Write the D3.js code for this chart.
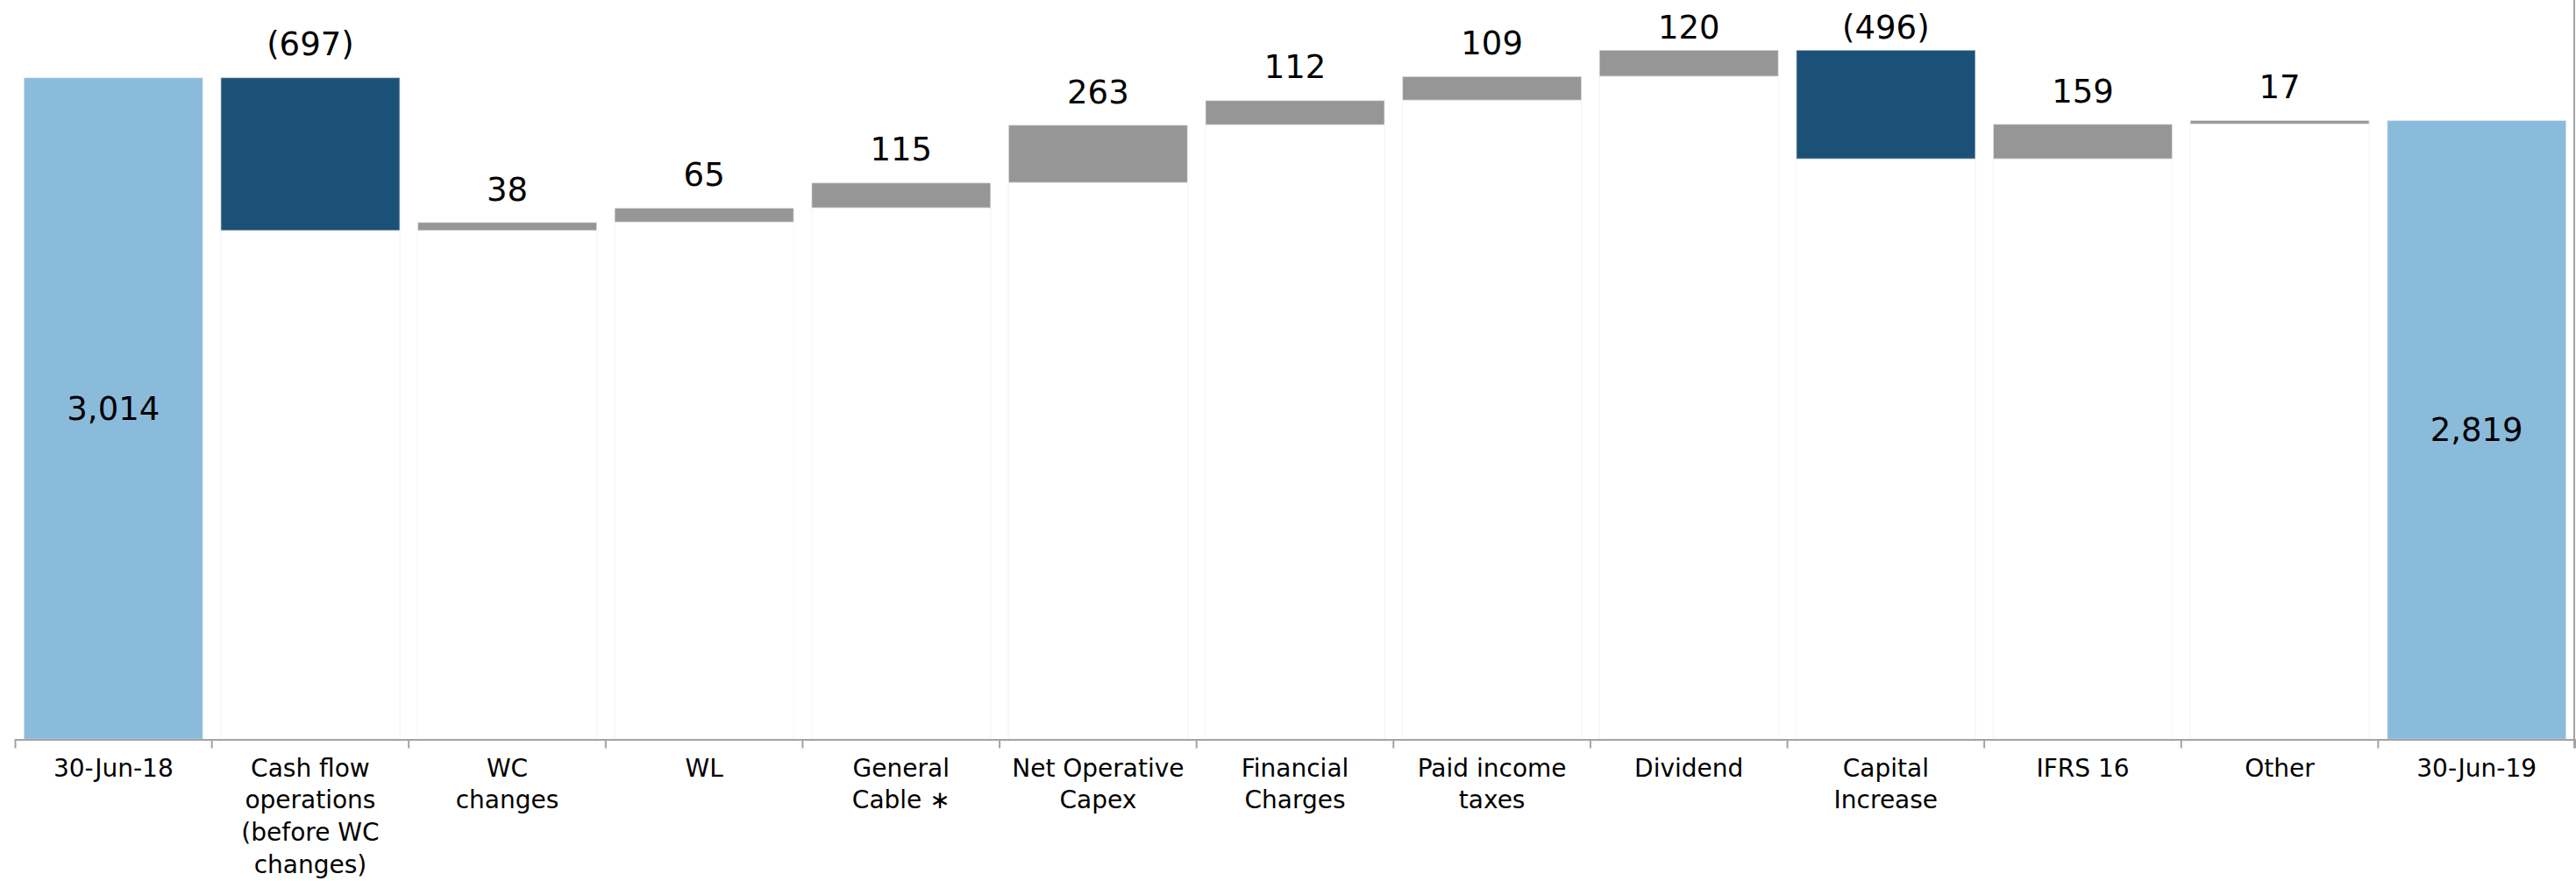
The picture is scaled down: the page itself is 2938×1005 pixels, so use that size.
<!DOCTYPE html>
<html>
<head>
<meta charset="utf-8">
<script src="https://cdn.jsdelivr.net/npm/d3@7"></script>
<style>
  body { margin: 0; background: #fff; }
  text { font-family: "DejaVu Sans", Verdana, sans-serif; fill: #000; }
</style>
</head>
<body>
<div id="chart"></div>
<script>
var svgWidth = 2938;
var svgHeight = 1005;

// data
var categories = ["30-Jun-18", "Cash flow operations", "WC changes", "WL", "General Cable",
  "Net Operative Capex", "Financial Charges", "Paid income taxes", "Dividend",
  "Capital Increase", "IFRS 16", "Other", "30-Jun-19"];
var categoryLines = [
  ["30-Jun-18"],
  ["Cash flow", "operations", "(before WC", "changes)"],
  ["WC", "changes"],
  ["WL"],
  ["General", "Cable \u2217"],
  ["Net Operative", "Capex"],
  ["Financial", "Charges"],
  ["Paid income", "taxes"],
  ["Dividend"],
  ["Capital", "Increase"],
  ["IFRS 16"],
  ["Other"],
  ["30-Jun-19"]
];
var values = [3014, -697, 38, 65, 115, 263, 112, 109, 120, -496, 159, 17, 2819];
var kinds = ["total", "reduce", "add", "add", "add", "add", "add", "add", "add", "reduce", "add", "add", "total"];

var colors = { total: "#8bbbdb", reduce: "#1c5177", add: "#969696" };

var margin = { top: 0, right: 1, bottom: 161.5, left: 17 };
var height = svgHeight - margin.top - margin.bottom;

// build the waterfall steps
var running = 0;
var steps = categories.map(function(c, i) {
  var v = values[i];
  var lo, hi;
  if (kinds[i] === "total") {
    lo = 0; hi = v; running = v;
  } else {
    lo = Math.min(running, running + v);
    hi = Math.max(running, running + v);
    running = running + v;
  }
  return { cat: c, value: v, kind: kinds[i], lo: lo, hi: hi, lines: categoryLines[i] };
});

var svg = d3.select("#chart")
  .append("svg")
  .attr("width", svgWidth)
  .attr("height", svgHeight);

var x = d3.scaleBand()
  .domain(categories)
  .range([margin.left, svgWidth - margin.right])
  .paddingInner(0.09)
  .paddingOuter(0.045);

var y = d3.scaleLinear()
  .domain([0, 3367])
  .range([height, margin.top]);

// faint outlines of the hidden base bars
svg.append("g")
  .selectAll("rect")
  .data(steps.filter(d => d.kind !== "total"))
  .enter()
  .append("rect")
  .attr("x", d => x(d.cat))
  .attr("y", d => y(d.lo))
  .attr("width", x.bandwidth())
  .attr("height", d => y(0) - y(d.lo))
  .attr("fill", "none")
  .attr("stroke", "#f7f7f7")
  .attr("stroke-width", 1.5);

// bars
svg.append("g")
  .selectAll("rect")
  .data(steps)
  .enter()
  .append("rect")
  .attr("x", d => x(d.cat))
  .attr("y", d => y(d.hi))
  .attr("width", x.bandwidth())
  .attr("height", d => y(d.lo) - y(d.hi))
  .attr("fill", d => colors[d.kind])
  .attr("stroke", "rgba(255,255,255,0.55)")
  .attr("stroke-width", 1.5);

// value labels
function fmt(v) {
  var s = d3.format(",")(Math.abs(v));
  return v < 0 ? "(" + s + ")" : s;
}

svg.append("g")
  .selectAll("text")
  .data(steps)
  .enter()
  .append("text")
  .attr("x", d => x(d.cat) + x.bandwidth() / 2)
  .attr("y", d => d.kind === "total" ? (y(d.lo) + y(d.hi)) / 2 + 13 : Math.max(y(d.hi) - 25, 44))
  .attr("text-anchor", "middle")
  .attr("font-size", "37px")
  .text(d => fmt(d.value));

// x axis
var xAxis = svg.append("g")
  .attr("transform", `translate(0, ${height})`)
  .call(d3.axisBottom(x).tickSizeInner(0).tickSizeOuter(10).tickFormat(""));

xAxis.select(".domain")
  .attr("stroke", "#a3a3a3")
  .attr("stroke-width", 2);

// boundary ticks between categories
xAxis.append("g")
  .selectAll("line")
  .data(categories.slice(1))
  .enter()
  .append("line")
  .attr("x1", d => x(d) - x.step() * x.paddingInner() / 2)
  .attr("x2", d => x(d) - x.step() * x.paddingInner() / 2)
  .attr("y1", 0)
  .attr("y2", 10)
  .attr("stroke", "#a3a3a3")
  .attr("stroke-width", 2);

// category labels
var labels = xAxis.append("g")
  .selectAll("text")
  .data(steps)
  .enter()
  .append("text")
  .attr("text-anchor", "middle")
  .attr("font-size", "28px")
  .attr("transform", d => `translate(${x(d.cat) + x.bandwidth() / 2}, 42)`);

labels.selectAll("tspan")
  .data(d => d.lines)
  .enter()
  .append("tspan")
  .attr("x", 0)
  .attr("dy", (d, i) => i === 0 ? 0 : 36.7)
  .text(d => d);

// right frame line
svg.append("line")
  .attr("x1", svgWidth - 2)
  .attr("x2", svgWidth - 2)
  .attr("y1", 0)
  .attr("y2", height + 10)
  .attr("stroke", "#a3a3a3")
  .attr("stroke-width", 2);
</script>
</body>
</html>
